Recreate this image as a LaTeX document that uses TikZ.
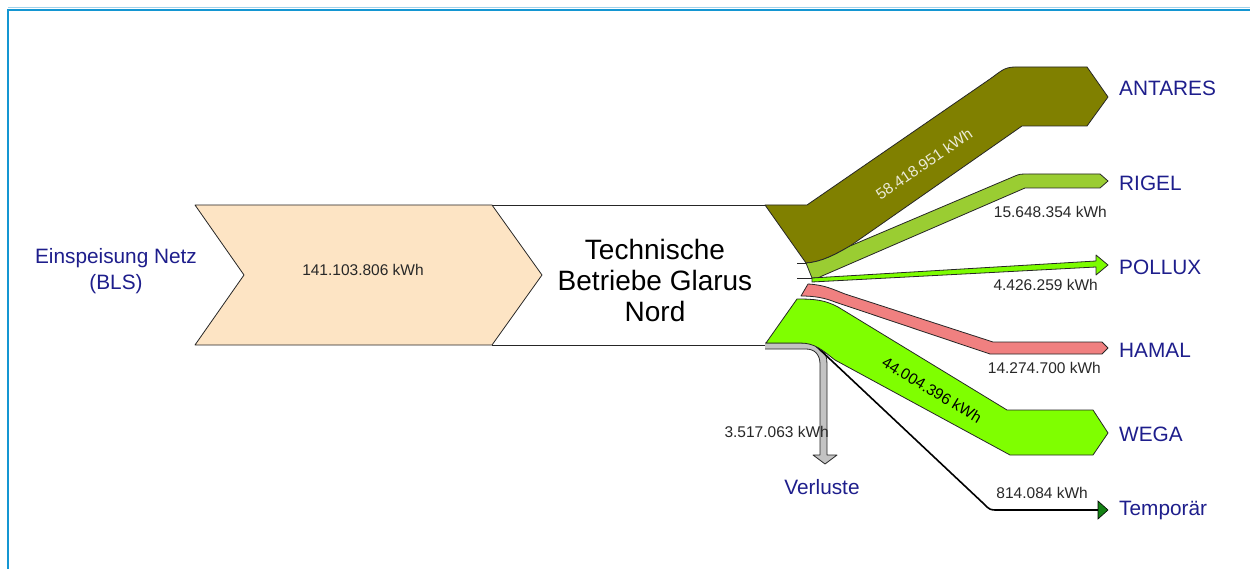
\documentclass[tikz,border=0pt]{standalone}
\usepackage{fontspec}
\setmainfont{Liberation Sans}
\definecolor{navy}{RGB}{30,30,140}
\definecolor{valc}{RGB}{40,40,40}
\definecolor{peach}{RGB}{253,228,196}
\definecolor{olivec}{RGB}{128,128,0}
\definecolor{rigelc}{RGB}{154,205,50}
\definecolor{polluxc}{RGB}{124,252,0}
\definecolor{hamalc}{RGB}{240,128,128}
\definecolor{wegac}{RGB}{127,255,0}
\definecolor{lossc}{RGB}{195,195,195}
\definecolor{tempc}{RGB}{20,130,20}
\definecolor{framec}{RGB}{20,150,210}
\definecolor{framel}{RGB}{160,210,235}
\definecolor{lightlab}{RGB}{235,235,215}
\begin{document}
\begin{tikzpicture}[x=1pt,y=-1pt,
  flow/.style={draw=black!85, line width=0.8pt, line join=round},
  dest/.style={font=\fontsize{20.8}{26}\selectfont, text=navy, anchor=base west, inner sep=0pt},
  val/.style={font=\fontsize{15.5}{18}\selectfont, text=valc, inner sep=0pt},
  valr/.style={val, anchor=base east}]
\useasboundingbox (0,0) rectangle (1250,569);
\fill[white] (0,0) rectangle (1250,569);
% frame
\draw[framel, line width=1pt] (8,7.8) -- (1250,7.8);
\draw[framec, line width=1.6pt] (8,569) -- (8,10.3) -- (1250,10.3);

% source chevron and box
\path[flow, fill=peach] (195,205) -- (492,205) -- (542,275) -- (492,345) -- (195,345) -- (244,275) -- cycle;
\draw[flow] (492,205) -- (765,205);
\draw[flow] (492,345) -- (765,345);

% Verluste band
\path[fill=lossc] (765,343) -- (806,343) .. controls (820,343) and (827,350) .. (827,364) -- (827,455) -- (837,455) -- (825,464) -- (813,455) -- (820,455) -- (820,364) .. controls (820,355) and (815,349) .. (806,349) -- (765,349) -- cycle;
\draw[black!85, line width=0.8pt, line join=round] (765,349) -- (806,349) .. controls (815,349) and (820,355) .. (820,364) -- (820,455) -- (813,455) -- (825,464) -- (837,455) -- (827,455) -- (827,364) .. controls (827,350) and (820,343) .. (806,343) -- (765,343);

% Temporaer line
\draw[black, line width=1.6pt, line join=round] (816,346) -- (984,504) .. controls (990,510) .. (998,510) -- (1099,510);
\path[fill=tempc, draw=black, line width=0.6pt] (1098,501) -- (1108,510) -- (1098,519) -- cycle;

% ANTARES
\path[flow, fill=olivec] (765,205) -- (807,205) -- (990,79) .. controls (1000,72) and (1004,67) .. (1015,67) -- (1087,67) -- (1108,97) -- (1087,126) -- (1022,126) -- (850,246) .. controls (836,254) and (822,262) .. (806,263) -- cycle;
% RIGEL
\path[flow, fill=rigelc] (806,263) .. controls (822,262) and (836,254) .. (850,246) -- (1015,176) .. controls (1020,174) .. (1030,174) -- (1100,174) -- (1108,181) -- (1100,188) -- (1025,188) -- (822,276) .. controls (818,278) .. (812,278) -- cycle;
% POLLUX
\path[flow, fill=polluxc] (812,278) -- (1096,261) -- (1096,255) -- (1108,265) -- (1096,275) -- (1096,267) -- (812,282) -- cycle;
\draw[black!85, line width=0.7pt] (797,263) -- (806,263);
\draw[black!85, line width=0.7pt] (797,278) -- (812,278);
% HAMAL
\path[flow, fill=hamalc] (808,284) .. controls (825,285) and (832,289) .. (845,294) -- (993,342) -- (1102,342) -- (1108,348) -- (1102,354) -- (990,354) -- (835,302) .. controls (825,298) and (815,296) .. (801,296) -- cycle;
% WEGA
\path[flow, fill=wegac] (797,299) .. controls (815,299) and (825,300) .. (838,307) -- (1007,410) -- (1093,410) -- (1108,433) -- (1093,455) -- (1010,455) -- (835,360) .. controls (822,350) and (815,343) .. (800,343) -- (766,343) -- cycle;

% labels
\node[font=\fontsize{20.8}{26}\selectfont, text=navy, align=center, inner sep=0pt] (src) at (116,271) {Einspeisung Netz\\(BLS)};
\node[val, anchor=base] (vsrc) at (363,275.5) {141.103.806 kWh};
\node[font=\fontsize{28}{31}\selectfont, align=center, inner sep=0pt] (tbgn) at (655,280) {Technische\\Betriebe Glarus\\Nord};

\node[dest] (antares) at (1119,95.5) {ANTARES};
\node[dest] (rigel) at (1119,190.5) {RIGEL};
\node[dest] (pollux) at (1119,274.5) {POLLUX};
\node[dest] (hamal) at (1119,357.5) {HAMAL};
\node[dest] (wega) at (1119,441.5) {WEGA};
\node[dest] (temp) at (1119,515.5) {Temporär};
\node[dest, anchor=base] (verl) at (822,494.5) {Verluste};

\node[val, text=lightlab, rotate=34.5] (vant) at (924,164) {58.418.951 kWh};
\node[val, text=black, rotate=-31] (vweg) at (932,390) {44.004.396 kWh};
\node[valr] (vrig) at (1107,217.5) {15.648.354 kWh};
\node[valr] (vpol) at (1098,290.5) {4.426.259 kWh};
\node[valr] (vham) at (1101,373.5) {14.274.700 kWh};
\node[valr] (vtmp) at (1088,498.5) {814.084 kWh};
\node[valr] (vver) at (829,437.5) {3.517.063 kWh};
\end{tikzpicture}
\end{document}
